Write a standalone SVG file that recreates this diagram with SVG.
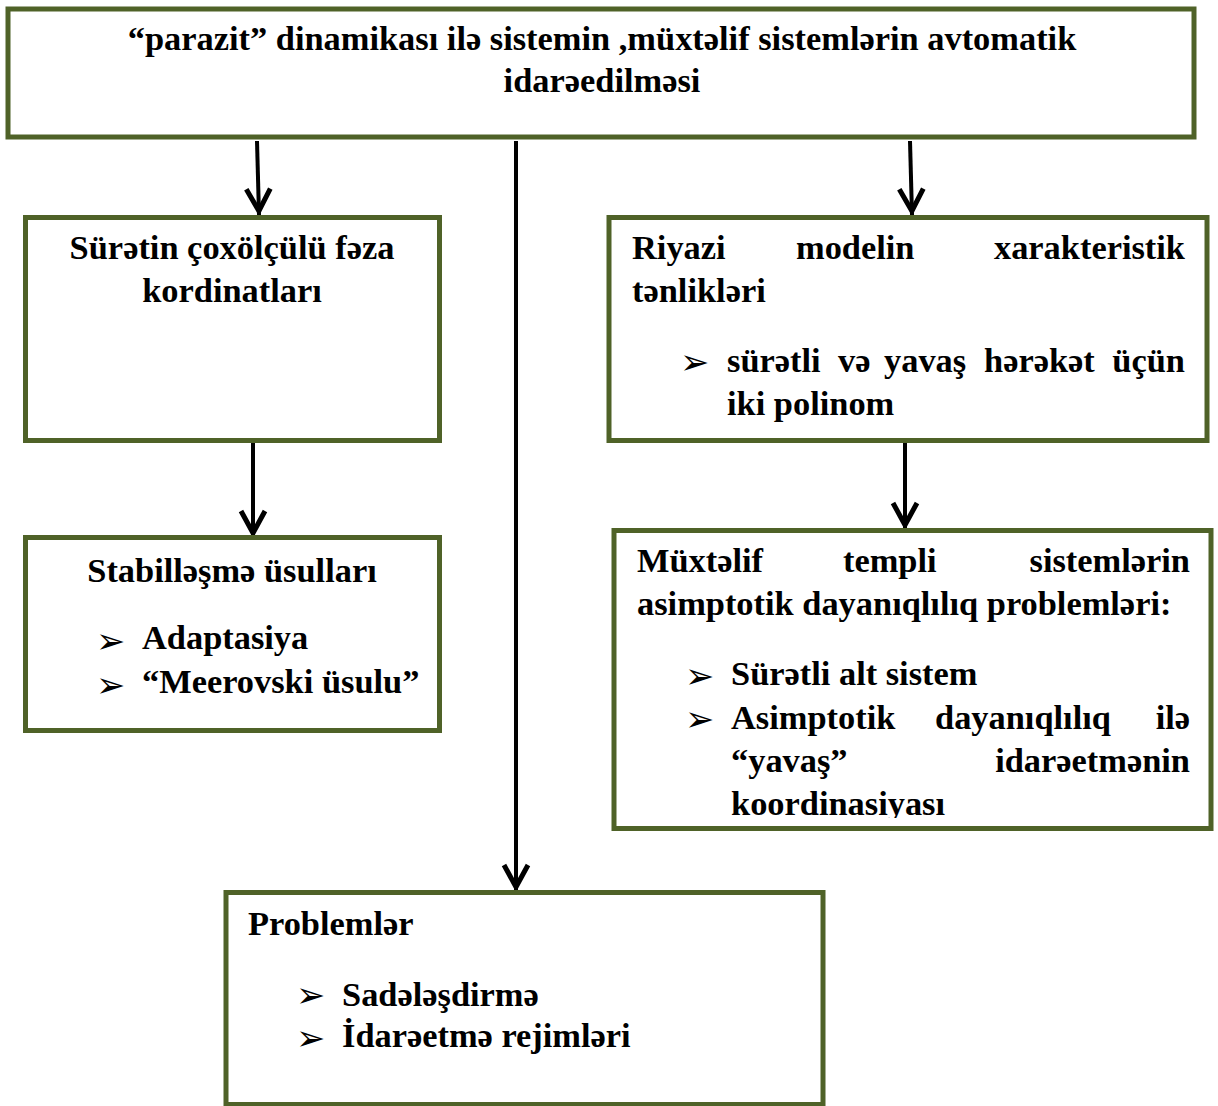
<svg xmlns="http://www.w3.org/2000/svg" width="1218" height="1106" viewBox="0 0 1218 1106">
  <style>
    .box { fill: #ffffff; stroke: #4f6228; stroke-width: 5; }
    .t { font-family: "Liberation Serif", "DejaVu Serif", serif; font-weight: bold; font-size: 34.4px; fill: #000000; }
    .c { text-anchor: middle; }
    .e { text-anchor: end; }
    .b { font-family: "DejaVu Sans", sans-serif; font-size: 35px; fill: #000000; }
    .wire { stroke: #000000; stroke-width: 4; fill: none; }
  </style>
  <defs>
    <marker id="arrow" markerUnits="userSpaceOnUse" viewBox="-30 -16 34 32" markerWidth="34" markerHeight="32" refX="0" refY="0" orient="auto" overflow="visible">
      <path d="M -26 -12 L -4 0 L -26 12" fill="none" stroke="#000000" stroke-width="5" stroke-linejoin="miter" stroke-miterlimit="10"/>
    </marker>
    <clipPath id="clipD">
      <rect x="614" y="530" width="597" height="288"/>
    </clipPath>
  </defs>

  <rect width="1218" height="1106" fill="#ffffff"/>

  <!-- connectors -->
  <g id="connectors">
    <line class="wire" x1="257" y1="141" x2="259" y2="215" marker-end="url(#arrow)"/>
    <line class="wire" x1="516" y1="141" x2="516" y2="891" marker-end="url(#arrow)"/>
    <line class="wire" x1="910" y1="141" x2="912" y2="215" marker-end="url(#arrow)"/>
    <line class="wire" x1="253" y1="442" x2="253" y2="537" marker-end="url(#arrow)"/>
    <line class="wire" x1="905" y1="440" x2="905" y2="529" marker-end="url(#arrow)"/>
  </g>

  <!-- root node -->
  <g id="root">
    <rect class="box" x="8" y="9" width="1186" height="128"/>
    <text class="t c" x="602" y="50">“parazit” dinamikası ilə sistemin ,müxtəlif sistemlərin avtomatik</text>
    <text class="t c" x="602" y="92">idarəedilməsi</text>
  </g>

  <!-- phase coordinates -->
  <g id="node-coordinates">
    <rect class="box" x="25.5" y="217.5" width="414" height="223"/>
    <text class="t c" x="232" y="259">Sürətin çoxölçülü fəza</text>
    <text class="t c" x="232" y="302">kordinatları</text>
  </g>

  <!-- stabilisation -->
  <g id="node-stabilisation">
    <rect class="box" x="25.5" y="537.5" width="414" height="193"/>
    <text class="t c" x="232" y="582">Stabilləşmə üsulları</text>
    <text class="b" x="96" y="653">➢</text>
    <text class="t" x="142" y="649">Adaptasiya</text>
    <text class="b" x="96" y="697">➢</text>
    <text class="t" x="142" y="693">“Meerovski üsulu”</text>
  </g>

  <!-- characteristic equations -->
  <g id="node-equations">
    <rect class="box" x="609" y="217.5" width="598" height="223"/>
    <text class="t" x="632" y="259">Riyazi</text>
    <text class="t" x="796" y="259">modelin</text>
    <text class="t e" x="1185" y="259">xarakteristik</text>
    <text class="t" x="632" y="302">tənlikləri</text>
    <text class="b" x="680" y="374">➢</text>
    <text class="t" x="727" y="372">sürətli</text>
    <text class="t" x="838" y="372">və</text>
    <text class="t" x="884" y="372">yavaş</text>
    <text class="t" x="984" y="372">hərəkət</text>
    <text class="t e" x="1185" y="372">üçün</text>
    <text class="t" x="727" y="415">iki polinom</text>
  </g>

  <!-- asymptotic stability -->
  <g id="node-stability">
    <rect class="box" x="614" y="530.5" width="597" height="298"/>
    <text class="t" x="637" y="572">Müxtəlif</text>
    <text class="t" x="843" y="572">templi</text>
    <text class="t e" x="1190" y="572">sistemlərin</text>
    <text class="t" x="637" y="615">asimptotik dayanıqlılıq problemləri:</text>
    <text class="b" x="685" y="688">➢</text>
    <text class="t" x="731" y="685">Sürətli alt sistem</text>
    <text class="b" x="685" y="731">➢</text>
    <text class="t" x="731" y="729">Asimptotik</text>
    <text class="t" x="935" y="729">dayanıqlılıq</text>
    <text class="t e" x="1190" y="729">ilə</text>
    <text class="t" x="731" y="772">“yavaş”</text>
    <text class="t e" x="1190" y="772">idarəetmənin</text>
    <text class="t" x="731" y="815" clip-path="url(#clipD)">koordinasiyası</text>
  </g>

  <!-- problems -->
  <g id="node-problems">
    <rect class="box" x="226" y="892.5" width="597" height="212"/>
    <text class="t" x="248" y="935">Problemlər</text>
    <text class="b" x="296" y="1007">➢</text>
    <text class="t" x="342" y="1006">Sadələşdirmə</text>
    <text class="b" x="296" y="1050">➢</text>
    <text class="t" x="342" y="1047">İdarəetmə rejimləri</text>
  </g>
</svg>
